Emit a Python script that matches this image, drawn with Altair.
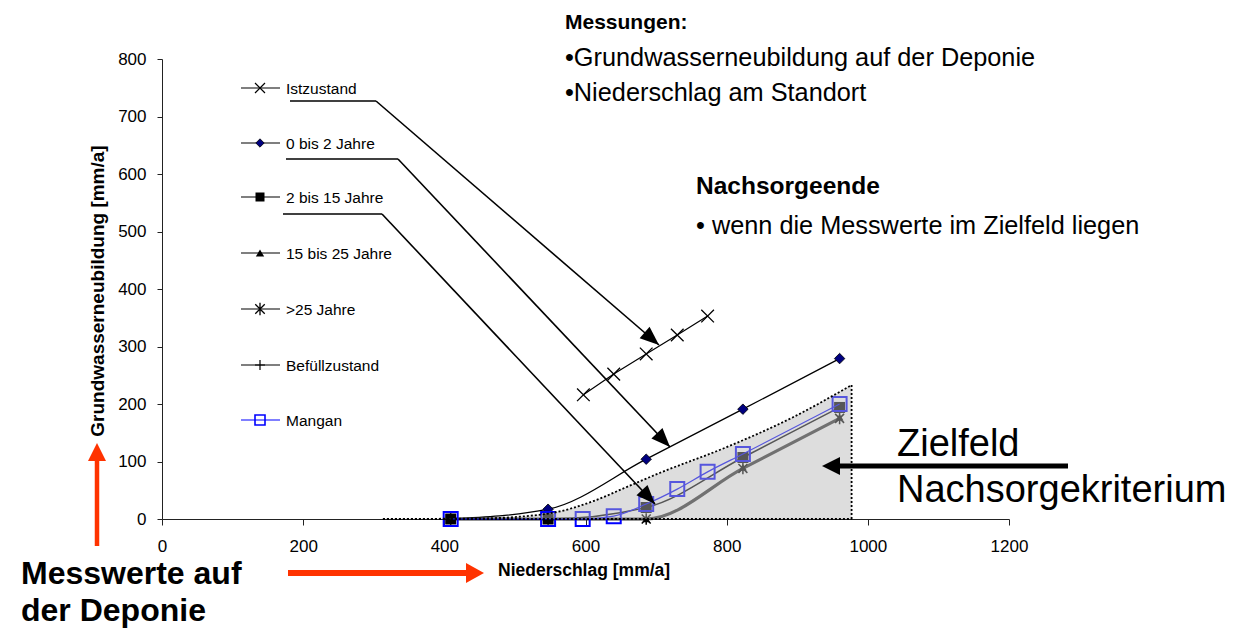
import math
import altair as alt
import pandas as pd

# ---------------- data ----------------
niederschlag = [409, 547, 686, 823, 960]
gw_0_2 = [0, 17, 104, 191, 279]
gw_2_15 = [0, 0, 20, 107, 194]
gw_15_25 = [0, 0, 0, 90, 177]
gw_25 = [0, 0, 0, 88, 175]
ist_x = [597, 640, 686, 730, 773]
ist_y = [216, 252, 287, 320, 353]
mangan_x = [409, 547, 596, 640, 686, 730, 773, 823, 960]
mangan_y = [0, 0, 0, 5, 26, 52, 82, 113, 200]
ziel_x = [313, 450, 545, 611, 659, 705, 800, 894, 977]
ziel_y = [0, 1, 9, 31, 56, 80, 125, 177, 233]
x_ticks = [0, 200, 400, 600, 800, 1000, 1200]
y_ticks = [0, 100, 200, 300, 400, 500, 600, 700, 800]
legend_names = ["Istzustand", "0 bis 2 Jahre", "2 bis 15 Jahre", "15 bis 25 Jahre",
                ">25 Jahre", "Befüllzustand", "Mangan"]

# ---------------- layout / style ----------------
FONT = "Liberation Sans"
W, H = 847, 460
OX, OY = 162, 59          # page position of the plot origin (8px page margin + padding)

X_PATH = "M-1,-1L1,1M-1,1L1,-1"
AST_PATH = "M-1,-1L1,1M-1,1L1,-1M0,-1.3L0,1.3"
PLUS_PATH = "M-1,0L1,0M0,-1L0,1"
HEAD = "M0,0L-1,-0.4L-1,0.4Z"
HEAD_WIDE = "M0,0L-1,-0.5L-1,0.5Z"

xs = alt.Scale(domain=[0, 1200], nice=False, zero=False)
ys = alt.Scale(domain=[0, 800], nice=False, zero=False)

x_axis = alt.Axis(values=x_ticks, title=None, grid=False, tickSize=6, labelPadding=13,
                  labelFont=FONT, labelFontSize=17, labelColor="black", domainColor="#222",
                  tickColor="#222", labelFlush=False, labelOverlap=False, format="d")
y_axis = alt.Axis(values=y_ticks, title=None, grid=False, tickSize=5, labelPadding=11,
                  labelFont=FONT, labelFontSize=17, labelColor="black", domainColor="#222",
                  tickColor="#222", labelOverlap=False, format="d")


def xy(x, y):
    return pd.DataFrame({"x": x, "y": y})


def enc(ch):
    return ch.encode(
        x=alt.X("x:Q", scale=xs, axis=x_axis),
        y=alt.Y("y:Q", scale=ys, axis=y_axis),
    )


one = pd.DataFrame({"k": [0]})


def px(x):
    return x - OX


def py(y):
    return y - OY


def seg(x1, y1, x2, y2, color="black", w=1.5):
    return alt.Chart(one).mark_rule(color=color, strokeWidth=w).encode(
        x=alt.value(px(x1)), y=alt.value(py(y1)), x2=alt.value(px(x2)), y2=alt.value(py(y2)))


def head(x, y, ang, r, color="black", shape=HEAD):
    return alt.Chart(one).mark_point(shape=shape, filled=True, color=color, opacity=1,
                                     size=(2 * r) ** 2, angle=ang % 360,
                                     strokeWidth=0).encode(x=alt.value(px(x)), y=alt.value(py(y)))


def txt(s, x, y, size, weight="normal", color="black", align="left", angle=0):
    return alt.Chart(one).mark_text(text=s, font=FONT, fontSize=size, fontWeight=weight,
                                    color=color, align=align, baseline="alphabetic",
                                    angle=angle).encode(x=alt.value(px(x)), y=alt.value(py(y)))


layers = []

# ---------------- data series ----------------
layers.append(enc(alt.Chart(xy(ist_x, ist_y)).mark_line(color="black", strokeWidth=1.2)))
layers.append(enc(alt.Chart(xy(ist_x, ist_y)).mark_point(shape=X_PATH, filled=False, color="black",
                                                         size=160, strokeWidth=1.3, opacity=1)))

layers.append(enc(alt.Chart(xy(niederschlag, gw_0_2)).mark_line(color="black", strokeWidth=1.3,
                                                                 interpolate="monotone")))
layers.append(enc(alt.Chart(xy(niederschlag, gw_0_2)).mark_point(shape="diamond", filled=True,
                                                                  fill="#000080", stroke="black",
                                                                  strokeWidth=0.8, size=110,
                                                                  opacity=1)))

layers.append(enc(alt.Chart(xy(niederschlag, gw_25)).mark_line(color="#333", strokeWidth=3.2,
                                                                interpolate="monotone")))
layers.append(enc(alt.Chart(xy(niederschlag, gw_15_25)).mark_point(shape="triangle-up", filled=True,
                                                                   color="black", size=60, opacity=1)))
layers.append(enc(alt.Chart(xy(niederschlag, gw_25)).mark_point(shape=AST_PATH, filled=False,
                                                                color="black", size=80,
                                                                strokeWidth=1.5, opacity=1)))

layers.append(enc(alt.Chart(xy(niederschlag, gw_2_15)).mark_line(color="black", strokeWidth=1.5,
                                                                  interpolate="monotone")))
layers.append(enc(alt.Chart(xy(niederschlag, gw_2_15)).mark_point(shape="square", filled=True,
                                                                  color="black", size=121, opacity=1)))

layers.append(enc(alt.Chart(xy(mangan_x, mangan_y)).mark_line(color="#0000ff", strokeWidth=1.2,
                                                               interpolate="monotone")))
layers.append(enc(alt.Chart(xy(mangan_x, mangan_y)).mark_point(shape="square", filled=False,
                                                                color="#0000ff", size=196,
                                                                strokeWidth=2, opacity=1)))

# ---------------- Zielfeld (translucent overlay + dotted border) ----------------
layers.append(enc(alt.Chart(xy(ziel_x, ziel_y)).mark_area(color="#b6b6b6", opacity=0.47,
                                                          interpolate="monotone")))
layers.append(enc(alt.Chart(xy(ziel_x, ziel_y)).mark_line(color="black", strokeWidth=1.8,
                                                          strokeDash=[2, 2],
                                                          interpolate="monotone")))
edges = pd.DataFrame({"x": [ziel_x[0], ziel_x[-1]], "x2": [ziel_x[-1], ziel_x[-1]],
                      "y": [ziel_y[0], ziel_y[0]], "y2": [ziel_y[0], ziel_y[-1]]})
layers.append(alt.Chart(edges).mark_rule(color="black", strokeWidth=1.8, strokeDash=[2, 2]).encode(
    x=alt.X("x:Q", scale=xs, axis=x_axis), x2="x2:Q",
    y=alt.Y("y:Q", scale=ys, axis=y_axis), y2="y2:Q"))

# ---------------- legend (hand drawn, inside plot) ----------------
leg_rows = [88, 143, 197, 253, 309, 365, 420]
leg_marks = [
    dict(shape=X_PATH, filled=False, color="black", size=100, strokeWidth=1.2),
    dict(shape="diamond", filled=True, fill="#000080", stroke="black", strokeWidth=0.8, size=70),
    dict(shape="square", filled=True, color="black", size=81),
    dict(shape="triangle-up", filled=True, color="black", size=70),
    dict(shape=AST_PATH, filled=False, color="black", size=90, strokeWidth=1.3),
    dict(shape=PLUS_PATH, filled=False, color="black", size=100, strokeWidth=1.2),
    dict(shape="square", filled=False, color="#0000ff", size=100, strokeWidth=1.6),
]
for name, ry, mk in zip(legend_names, leg_rows, leg_marks):
    col = "#0000ff" if name == "Mangan" else "black"
    layers.append(seg(241, ry, 280, ry, color=col, w=1.2))
    layers.append(alt.Chart(one).mark_point(opacity=1, **mk).encode(
        x=alt.value(px(260)), y=alt.value(py(ry))))
    layers.append(txt(name, 286, ry + 5.5, 15.5))

# ---------------- annotation arrows ----------------
arrows = [((290, 101), (376, 101), (659, 345)),
          ((286, 159), (398, 159), (670, 447)),
          ((283, 214), (382, 214), (655, 504))]
for a, b, t in arrows:
    layers.append(seg(a[0], a[1], b[0], b[1], w=1.6))
    layers.append(seg(b[0], b[1], t[0], t[1], w=1.6))
    ang = math.degrees(math.atan2(t[1] - b[1], t[0] - b[0]))
    layers.append(head(t[0], t[1], ang, 19))

# big black arrow towards the Zielfeld
layers.append(seg(838, 466, 1068, 466, w=5))
layers.append(head(822, 466, 180, 18, shape=HEAD_WIDE))

# red-orange arrows
RED = "#ff3300"
layers.append(seg(97, 546, 97, 460, color=RED, w=4.5))
layers.append(head(97, 443, 270, 18, color=RED, shape=HEAD_WIDE))
layers.append(seg(288, 573, 468, 573, color=RED, w=6))
layers.append(head(484, 573, 0, 18, color=RED, shape="M0,0L-1,-0.55L-1,0.55Z"))

# ---------------- texts ----------------
layers.append(txt("Grundwasserneubildung [mm/a]", 104, 291, 19, "bold", align="center", angle=270))
layers.append(txt("Niederschlag [mm/a]", 498, 576, 17.5, "bold"))
layers.append(txt("Messwerte auf", 21, 584, 32, "bold"))
layers.append(txt("der Deponie", 21, 621, 32, "bold"))
layers.append(txt("Messungen:", 565, 29, 21, "bold"))
layers.append(txt("\u2022Grundwasserneubildung auf der Deponie", 565, 66, 25.3))
layers.append(txt("\u2022Niederschlag am Standort", 565, 101, 25.3))
layers.append(txt("Nachsorgeende", 696, 194, 24.5, "bold"))
layers.append(txt("\u2022 wenn die Messwerte im Zielfeld liegen", 696, 234, 25.3))
layers.append(txt("Zielfeld", 897, 456, 38))
layers.append(txt("Nachsorgekriterium", 897, 502, 38))

chart = alt.layer(*layers).properties(
    width=W, height=H,
    background="white",
    padding={"left": OX - 8, "top": OY - 8, "right": 1239 - 16 - (OX - 8) - W,
             "bottom": 630 - 8 - (OY - 8) - H},
    autosize=alt.AutoSizeParams(type="none"),
).configure_view(strokeWidth=0)

chart.save("out.html", embed_options={"renderer": "svg", "actions": False})
